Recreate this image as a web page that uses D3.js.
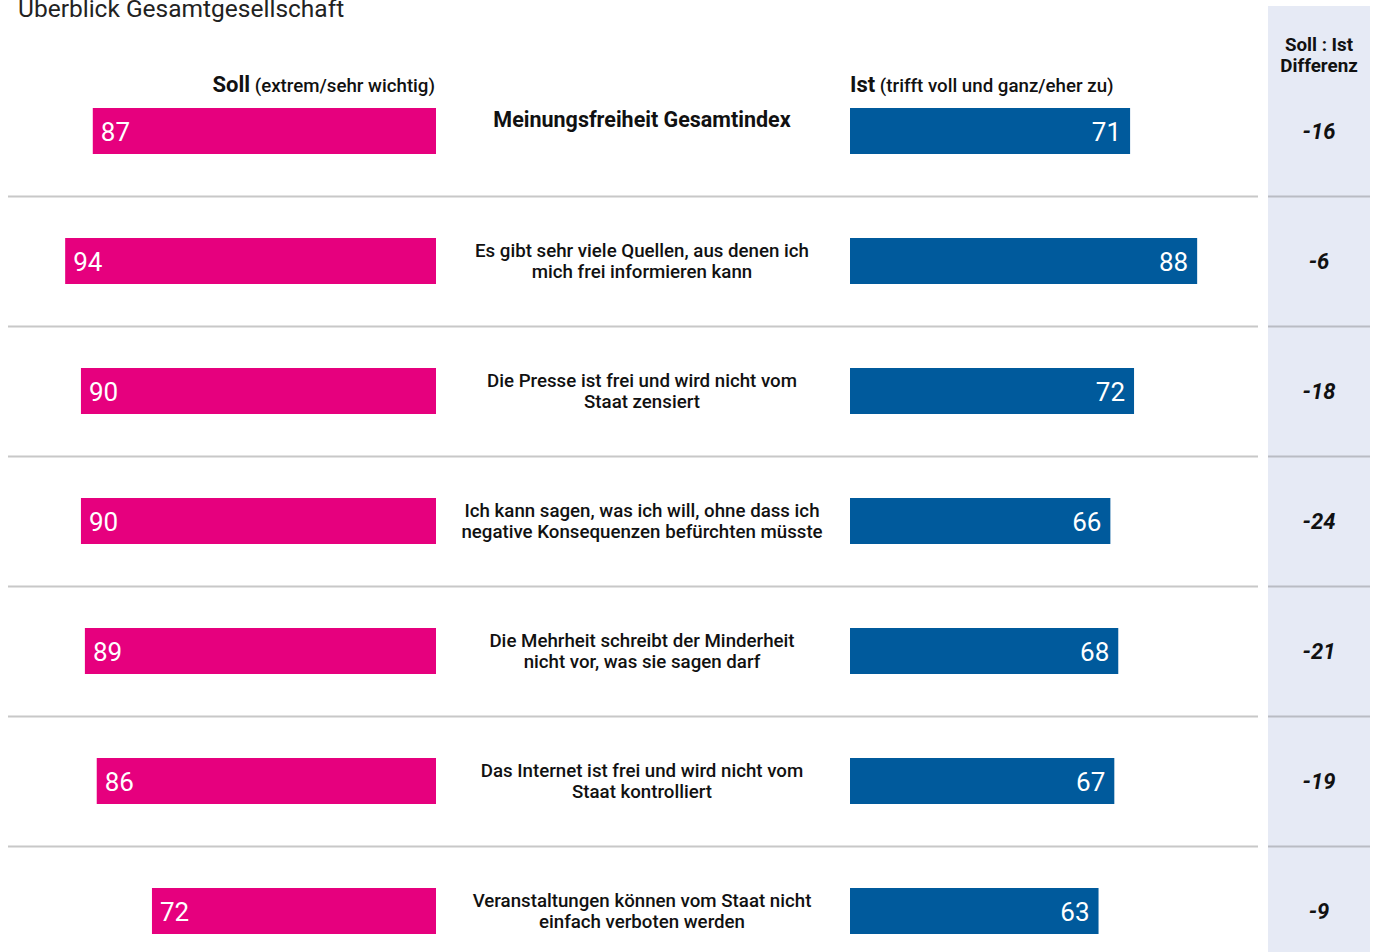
<!DOCTYPE html>
<html lang="de">
<head>
<meta charset="utf-8">
<script src="https://cdn.jsdelivr.net/npm/d3@7"></script>
<style>
  html, body { margin: 0; padding: 0; background: #fff; }
  svg { display: block; font-family: Roboto, "Noto Sans", sans-serif; }
</style>
</head>
<body>
<svg id="chart" width="1374" height="952"></svg>
<script>
// Aussagen zur Meinungsfreiheit (erste Zeile = Gesamtindex)
const items = [
  ["Meinungsfreiheit Gesamtindex"],
  ["Es gibt sehr viele Quellen, aus denen ich", "mich frei informieren kann"],
  ["Die Presse ist frei und wird nicht vom", "Staat zensiert"],
  ["Ich kann sagen, was ich will, ohne dass ich", "negative Konsequenzen befürchten müsste"],
  ["Die Mehrheit schreibt der Minderheit", "nicht vor, was sie sagen darf"],
  ["Das Internet ist frei und wird nicht vom", "Staat kontrolliert"],
  ["Veranstaltungen können vom Staat nicht", "einfach verboten werden"]
];
// Soll: extrem/sehr wichtig (%)
const soll = [87, 94, 90, 90, 89, 86, 72];
// Ist: trifft voll und ganz/eher zu (%)
const ist = [71, 88, 72, 66, 68, 67, 63];
// Soll : Ist Differenz
const diff = [-16, -6, -18, -24, -21, -19, -9];

const svg = d3.select("#chart");
const PINK = "#E6007E", BLUE = "#005A9C";

const x = d3.scaleLinear().domain([0, 100]).range([0, 394.5]);
const y = d3.scaleBand().domain(d3.range(items.length)).range([67, 67 + 130 * items.length]).paddingInner(0);
const barH = 46;
const leftEdge = 436, rightEdge = 850, midX = 642, diffX = 1319;

// Differenz-Spalte Hintergrund
svg.append("rect").attr("x", 1268).attr("y", 6).attr("width", 102).attr("height", 946).attr("fill", "#E6EAF5");

// Titel
svg.append("text").attr("x", 18).attr("y", 17).attr("font-size", 24.5).attr("fill", "#222")
  .text("Überblick Gesamtgesellschaft");

// Spaltenköpfe
const hs = svg.append("text").attr("x", leftEdge - 1).attr("y", 92).attr("text-anchor", "end").attr("fill", "#111");
hs.append("tspan").attr("font-size", 22).attr("font-weight", 700).text("Soll");
hs.append("tspan").attr("font-size", 18.7).attr("font-weight", 500).text(" (extrem/sehr wichtig)");
const hi = svg.append("text").attr("x", rightEdge).attr("y", 92).attr("fill", "#111");
hi.append("tspan").attr("font-size", 22).attr("font-weight", 700).text("Ist");
hi.append("tspan").attr("font-size", 18.7).attr("font-weight", 500).text(" (trifft voll und ganz/eher zu)");
svg.append("text").attr("x", diffX).attr("y", 51).attr("text-anchor", "middle").attr("font-size", 18.8).attr("font-weight", 700).attr("fill", "#111").text("Soll : Ist");
svg.append("text").attr("x", diffX).attr("y", 72).attr("text-anchor", "middle").attr("font-size", 18.8).attr("font-weight", 700).attr("fill", "#111").text("Differenz");

// Trennlinien
const seps = d3.range(1, items.length);
svg.selectAll("line.sep").data(seps).join("line")
  .attr("x1", 8).attr("x2", 1258)
  .attr("y1", d => y(d) - 0.5).attr("y2", d => y(d) - 0.5)
  .attr("stroke", "#c8c8c8").attr("stroke-width", 2);
svg.selectAll("line.sep2").data(seps).join("line")
  .attr("x1", 1268).attr("x2", 1370)
  .attr("y1", d => y(d) - 0.5).attr("y2", d => y(d) - 0.5)
  .attr("stroke", "#b9bcc4").attr("stroke-width", 2);

const rows = svg.selectAll("g.row").data(items).join("g").attr("class", "row")
  .attr("transform", (d, i) => `translate(0,${y(i) + y.bandwidth() / 2 - 1})`);

// Soll-Balken (nach links)
rows.append("rect")
  .attr("x", (d, i) => leftEdge - x(soll[i])).attr("y", -barH / 2)
  .attr("width", (d, i) => x(soll[i])).attr("height", barH).attr("fill", PINK);
rows.append("text")
  .attr("x", (d, i) => leftEdge - x(soll[i]) + 8).attr("y", 9.5)
  .attr("font-size", 26).attr("fill", "#fff").text((d, i) => soll[i]);

// Ist-Balken (nach rechts)
rows.append("rect")
  .attr("x", rightEdge).attr("y", -barH / 2)
  .attr("width", (d, i) => x(ist[i])).attr("height", barH).attr("fill", BLUE);
rows.append("text")
  .attr("x", (d, i) => rightEdge + x(ist[i]) - 9).attr("y", 9.5)
  .attr("text-anchor", "end").attr("font-size", 26).attr("fill", "#fff").text((d, i) => ist[i]);

// Aussagen
rows.each(function (lines, i) {
  const g = d3.select(this);
  if (i === 0) {
    g.append("text").attr("x", midX).attr("y", -4).attr("text-anchor", "middle")
      .attr("font-size", 21.5).attr("font-weight", 700).attr("fill", "#111").text(lines[0]);
  } else {
    lines.forEach((l, j) => {
      g.append("text").attr("x", midX).attr("y", -4.5 + j * 21.5).attr("text-anchor", "middle")
        .attr("font-size", 18.7).attr("font-weight", 500).attr("fill", "#111").text(l);
    });
  }
});

// Differenzwerte
rows.append("text")
  .attr("x", diffX).attr("y", 8).attr("text-anchor", "middle")
  .attr("font-size", 22).attr("font-weight", 700).attr("font-style", "italic").attr("fill", "#111")
  .text((d, i) => diff[i]);
</script>
</body>
</html>
